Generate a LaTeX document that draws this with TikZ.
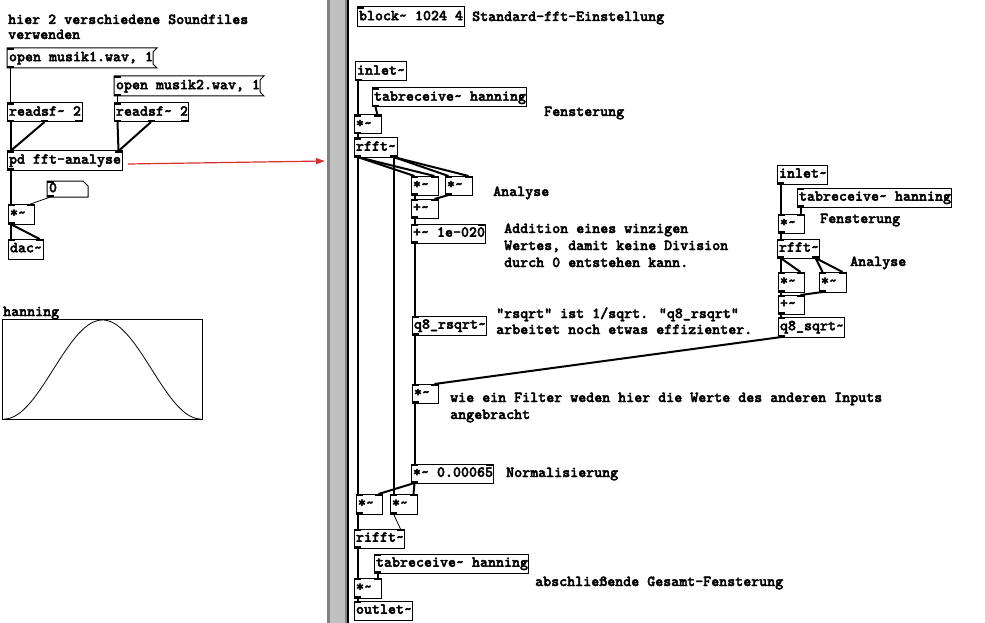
\documentclass[tikz,border=0pt]{standalone}
\usepackage{fontspec}
\newfontfamily\pdfam{lmmonolt10-bold.otf}[FakeBold=2.5]
\usetikzlibrary{calc,arrows.meta}
\newcommand\pdfont{\pdfam\fontsize{15.24pt}{16pt}\selectfont}
\newcommand\pdt{\textasciitilde}
\definecolor{divlight}{RGB}{192,192,192}
\definecolor{divdark}{RGB}{128,128,128}
\definecolor{arrowred}{RGB}{218,48,48}
\newcommand\obj[6][]{\node[pdbox,#1] (#2) at (#3,#4) {\makebox[\dimexpr#5pt-4pt\relax][l]{#6}};}
\newcommand\wire[5][sig]{\draw[#1] ($(#2)+(#3,0)$) -- ($(#4)+(#5,0)$);}
\begin{document}
\begin{tikzpicture}[x=1pt,y=-1pt,
  pdbox/.style={draw, line width=1pt, outer sep=0pt, inner xsep=2pt, inner ysep=0pt,
    minimum height=19pt, text height=9pt, text depth=2.5pt, anchor=north west, font=\pdfont},
  pdplain/.style={pdbox, draw=none},
  cmt/.style={font=\pdfont, anchor=base west, inner sep=0pt, align=left},
  sig/.style={line width=2pt},
  ctl/.style={line width=0.8pt}]
\useasboundingbox (0,0) rectangle (985,623);
\fill[white] (0,0) rectangle (985,623);
% divider
\fill[divdark] (327,0) rectangle (347,623);
\fill[divlight] (330,0) rectangle (345,623);
\fill[black] (347,0) rectangle (348.5,623);

% ---------- left (main patch)
\node[cmt] (chier) at (8,39) {hier 2 verschiedene Soundfiles\\[-1pt]verwenden};
\node[pdplain, minimum height=20pt] (msg1) at (7,48) {\makebox[142pt][l]{open musik1.wav, 1}};
\draw[line width=1pt] (msg1.north west) -- ($(msg1.north east)+(4,0)$) -- ($(msg1.north east)+(0,4)$)
  -- ($(msg1.south east)+(0,-4)$) -- ($(msg1.south east)+(4,0)$) -- (msg1.south west) -- cycle;
\node[pdplain, minimum height=20pt] (msg2) at (114,76) {\makebox[142pt][l]{open musik2.wav, 1}};
\draw[line width=1pt] (msg2.north west) -- ($(msg2.north east)+(4,0)$) -- ($(msg2.north east)+(0,4)$)
  -- ($(msg2.south east)+(0,-4)$) -- ($(msg2.south east)+(4,0)$) -- (msg2.south west) -- cycle;
\obj{rsf1}{7}{103}{75}{readsf\pdt{} 2}
\obj{rsf2}{114}{103}{74}{readsf\pdt{} 2}
\obj{pdfft}{7}{151}{115}{pd fft-analyse}
\node[pdplain, minimum height=16pt] (num0) at (47,181) {\makebox[37pt][l]{0}};
\draw[line width=1pt] (num0.north west) -- ($(num0.north east)+(-5,0)$) -- ($(num0.north east)+(0,5)$)
  -- (num0.south east) -- (num0.south west) -- cycle;
\obj[minimum height=20pt]{mul0}{8}{204}{26}{*\pdt}
\obj[minimum height=20pt]{dac}{8}{239}{35}{dac\pdt}

\node[cmt] (hlabel) at (3,316) {hanning};
\node[draw, line width=1pt, outer sep=0pt, anchor=north west, minimum width=200pt, minimum height=100pt, inner sep=0pt] (hgraph) at (2,319) {};
\draw[line width=0.8pt] plot[domain=0:1, samples=120, smooth] ({4+197*\x},{419-99*(sin(180*\x))^2});

\coordinate (arrowtip) at (325,161);
\draw[arrowred, line width=1.2pt, -{Triangle[length=9pt,width=6pt]}] ($(pdfft.east)+(6,3.5)$) -- (arrowtip);

% ---------- right (subpatch)
\obj[minimum height=20pt]{block}{357}{7}{107}{block\pdt{} 1024 4}
\node[cmt] (cstd) at (472,21) {Standard-fft-Einstellung};
\obj{in1}{355}{62}{51}{inlet\pdt}
\obj{tab1}{372}{88}{154}{tabreceive\pdt{} hanning}
\node[cmt] (cfen1) at (544,116) {Fensterung};
\obj{m1}{354}{115}{27}{*\pdt}
\obj{rfft1}{354}{138}{43}{rfft\pdt}
\obj{a1}{411}{176}{27}{*\pdt}
\obj{a2}{445}{176}{27}{*\pdt}
\node[cmt] (cana1) at (493,196) {Analyse};
\obj{plus1}{411}{199}{27}{+\pdt}
\obj{plus2}{411}{224}{74}{+\pdt{} 1e-020}
\node[cmt] (cadd) at (504,267) {Addition eines winzigen\\[1pt]Wertes, damit keine Division\\[1pt]durch 0 entstehen kann.};
\obj{rsqrt}{412}{316}{74}{q8\_rsqrt\pdt}
\node[cmt] (crsq) at (496,334) {"rsqrt" ist 1/sqrt. "q8\_rsqrt"\\arbeitet noch etwas effizienter.};
\obj{m2}{412}{384}{26}{*\pdt}
\node[cmt] (cwie) at (450,419) {wie ein Filter weden hier die Werte des anderen Inputs\\[1pt]angebracht};
\obj{m3}{411}{464}{82}{*\pdt{} 0.00065}
\node[cmt] (cnorm) at (506,477) {Normalisierung};
\obj[minimum height=20pt]{b1}{356}{494}{26}{*\pdt}
\obj[minimum height=20pt]{b2}{390}{494}{27}{*\pdt}
\obj{rifft}{354}{529}{50}{rifft\pdt}
\obj{tab2}{374}{554}{154}{tabreceive\pdt{} hanning}
\obj[minimum height=20pt]{m4}{354}{578}{27}{*\pdt}
\obj{outl}{354}{601}{58}{outlet\pdt}
\node[cmt] (cabs) at (535,586) {abschließende Gesamt-Fensterung};

\obj{in2}{777}{165}{50}{inlet\pdt}
\obj{tab3}{797}{188}{154}{tabreceive\pdt{} hanning}
\node[cmt] (cfen2) at (820,223) {Fensterung};
\obj{m5}{778}{214}{26}{*\pdt}
\obj{rfft2}{777}{239}{42}{rfft\pdt}
\obj[minimum height=20pt]{c1}{778}{272}{26}{*\pdt}
\obj[minimum height=20pt]{c2}{819}{272}{27}{*\pdt}
\node[cmt] (cana2) at (850,266) {Analyse};
\obj{plus3}{778}{295}{26}{+\pdt}
\obj[minimum height=20pt]{sqrt}{778}{317}{66}{q8\_sqrt\pdt}

% ---------- iolets
\foreach \n in {msg1,msg2,num0,rsf1,rsf2,pdfft,mul0,dac,block,tab1,m1,rfft1,a1,a2,plus1,plus2,rsqrt,m2,m3,b1,b2,rifft,tab2,m4,outl,tab3,m5,rfft2,c1,c2,plus3,sqrt}
  \fill (\n.north west) rectangle ++(7,2);
\foreach \n in {msg1,msg2,num0,rsf1,rsf2,pdfft,mul0,in1,tab1,m1,rfft1,a1,a2,plus1,plus2,rsqrt,m2,m3,b1,b2,rifft,tab2,m4,in2,tab3,m5,rfft2,c1,c2,plus3,sqrt}
  \fill (\n.south west) rectangle ++(7,-2);
\foreach \n in {pdfft,mul0,dac,m1,a1,a2,plus1,plus2,m2,m3,b1,b2,rifft,m4,m5,c1,c2,plus3}
  \fill (\n.north east) rectangle ++(-7,2);
\foreach \n in {rsf1,rsf2,rfft1,rfft2}
  \fill (\n.south east) rectangle ++(-7,-2);
\foreach \n in {rsf1,rsf2}
  \fill ($(\n.south)+(-3.5,0)$) rectangle ++(7,-2);

% ---------- wires (left)
\wire[ctl]{msg1.south west}{3.5}{rsf1.north west}{3.5}
\wire[ctl]{msg2.south west}{3.5}{rsf2.north west}{3.5}
\wire{rsf1.south west}{3.5}{pdfft.north west}{3.5}
\wire{rsf1.south}{0}{pdfft.north west}{3.5}
\wire{rsf2.south west}{3.5}{pdfft.north east}{-3.5}
\wire{rsf2.south}{0}{pdfft.north east}{-3.5}
\wire{pdfft.south west}{3.5}{mul0.north west}{2.5}
\wire[ctl]{num0.south west}{3.5}{mul0.north east}{-3.5}
\wire{mul0.south west}{2.5}{dac.north west}{2.5}
\wire{mul0.south west}{2.5}{dac.north east}{-3.5}

% ---------- wires (subpatch)
\wire{in1.south west}{3}{m1.north west}{4}
\wire{tab1.south west}{3.5}{m1.north east}{-3.5}
\wire{m1.south west}{3.5}{rfft1.north west}{3.5}
\wire{rfft1.south west}{3.5}{a1.north west}{3.5}
\wire{rfft1.south west}{3.5}{a1.north east}{-3.5}
\wire{rfft1.south east}{-3.5}{a2.north west}{3.5}
\wire{rfft1.south east}{-3.5}{a2.north east}{-3.5}
\wire{a1.south west}{3.5}{plus1.north west}{3.5}
\wire{a2.south west}{3.5}{plus1.north east}{-3.5}
\wire{plus1.south west}{3.5}{plus2.north west}{3.5}
\wire{plus2.south west}{3.5}{rsqrt.north west}{2.5}
\wire{rsqrt.south west}{2.5}{m2.north west}{2.5}
\wire{m2.south west}{2.5}{m3.north west}{3.5}
\wire{m3.south west}{3.5}{b1.north east}{-3.5}
\wire{m3.south west}{3.5}{b2.north east}{-3.5}
\wire{rfft1.south west}{3.5}{b1.north west}{1.5}
\wire{rfft1.south east}{-3.5}{b2.north west}{3.5}
\wire{b1.south west}{1.5}{rifft.north west}{3.5}
\wire[ctl]{b2.south west}{3.5}{rifft.north east}{-3.5}
\wire{rifft.south west}{3.5}{m4.north west}{3.5}
\wire{tab2.south west}{3.5}{m4.north east}{-3.5}
\wire{m4.south west}{3.5}{outl.north west}{3.5}

\wire{in2.south west}{3.5}{m5.north west}{2.5}
\wire{tab3.south west}{3.5}{m5.north east}{-3.5}
\wire{m5.south west}{2.5}{rfft2.north west}{3.5}
\wire{rfft2.south west}{3.5}{c1.north west}{2.5}
\wire{rfft2.south west}{3.5}{c1.north east}{-3.5}
\wire{rfft2.south east}{-3.5}{c2.north west}{3.5}
\wire{rfft2.south east}{-3.5}{c2.north east}{-3.5}
\wire{c1.south west}{2.5}{plus3.north west}{2.5}
\wire{c2.south west}{3.5}{plus3.north east}{-3.5}
\wire{plus3.south west}{2.5}{sqrt.north west}{2.5}
\wire{sqrt.south west}{3.5}{m2.north east}{-3.5}
\end{tikzpicture}
\end{document}
